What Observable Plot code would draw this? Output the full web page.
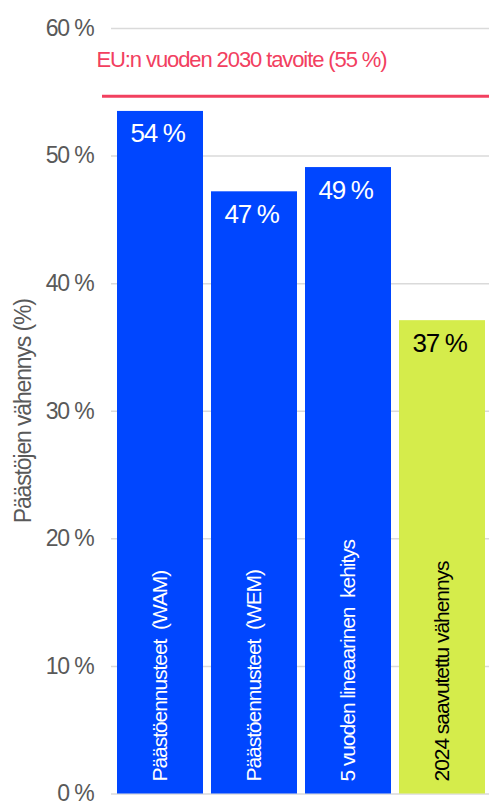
<!DOCTYPE html>
<html>
<head>
<meta charset="utf-8">
<script src="https://cdn.jsdelivr.net/npm/d3@7"></script>
<script src="https://cdn.jsdelivr.net/npm/@observablehq/plot@0.6"></script>
<style>
  html, body { margin: 0; padding: 0; background: #fff; }
  svg text { letter-spacing: -0.05em; }
</style>
</head>
<body>
<div id="chart"></div>
<script>
const categories = [
  "Päästöennusteet\u00a0 (WAM)",
  "Päästöennusteet\u00a0 (WEM)",
  "5 vuoden lineaarinen\u00a0 kehitys",
  "2024 saavutettu vähennys"
];
const values = [53.5, 47.2, 49.1, 37.1];
const valueLabels = ["54 %", "47 %", "49 %", "37 %"];
const kinds = ["ennuste", "ennuste", "ennuste", "toteutunut"];
const target = 55;
const targetLabel = "EU:n vuoden 2030 tavoite (55 %)";
const yTicks = [0, 10, 20, 30, 40, 50, 60];
const yTitle = "Päästöjen vähennys (%)";

const data = categories.map((c, i) => ({cat: c, value: values[i], label: valueLabels[i], kind: kinds[i]}));

const BLUE = "#0046ff", GREEN = "#d5ec4b", RED = "#f2405f", GRAY = "#595959", GRID = "#dadada";
const FONT = "Liberation Sans, Arial, sans-serif";

const chart = Plot.plot({
  width: 489,
  height: 804,
  marginTop: 28,
  marginBottom: 10.5,
  marginLeft: 116,
  marginRight: 2,
  style: {fontFamily: FONT, background: "#fff"},
  x: {type: "band", domain: categories, paddingInner: 0.085, paddingOuter: 0, axis: null},
  y: {domain: [0, 60], axis: null},
  color: {domain: ["ennuste", "toteutunut"], range: [BLUE, GREEN]},
  marks: [
    Plot.ruleY(yTicks, {stroke: GRID, strokeWidth: 1.5, insetLeft: -5, insetRight: -2}),
    Plot.barY(data, {x: "cat", y: "value", fill: "kind"}),
    Plot.ruleY([target], {stroke: RED, strokeWidth: 3, insetLeft: -14, insetRight: -2, dy: 4}),
    Plot.text([target], {y: d => d, text: () => targetLabel, frameAnchor: "left", textAnchor: "start",
      lineAnchor: "bottom", dx: -20, dy: -25, fill: RED, fontSize: 22}),
    Plot.text(yTicks, {y: d => d, text: d => `${d} %`, frameAnchor: "left", textAnchor: "end",
      lineAnchor: "middle", dx: -23, fill: GRAY, fontSize: 23}),
    Plot.text([yTitle], {frameAnchor: "left", rotate: -90, textAnchor: "middle", lineAnchor: "middle",
      dx: -93, fill: GRAY, fontSize: 23}),
    Plot.text(data, {filter: d => d.kind === "ennuste", x: "cat", y: "value", text: "label",
      textAnchor: "start", lineAnchor: "bottom", dx: -30, dy: 31, fill: "white", fontSize: 26}),
    Plot.text(data, {filter: d => d.kind !== "ennuste", x: "cat", y: "value", text: "label",
      textAnchor: "start", lineAnchor: "bottom", dx: -30, dy: 31, fill: "black", fontSize: 26}),
    Plot.text(data, {filter: d => d.kind === "ennuste", x: "cat", text: "cat", frameAnchor: "bottom",
      rotate: -90, textAnchor: "start", lineAnchor: "middle", dy: -12.5, fill: "white", fontSize: 21}),
    Plot.text(data, {filter: d => d.kind !== "ennuste", x: "cat", text: "cat", frameAnchor: "bottom",
      rotate: -90, textAnchor: "start", lineAnchor: "middle", dy: -12.5, fill: "black", fontSize: 21})
  ]
});
document.getElementById("chart").appendChild(chart);
</script>
</body>
</html>
